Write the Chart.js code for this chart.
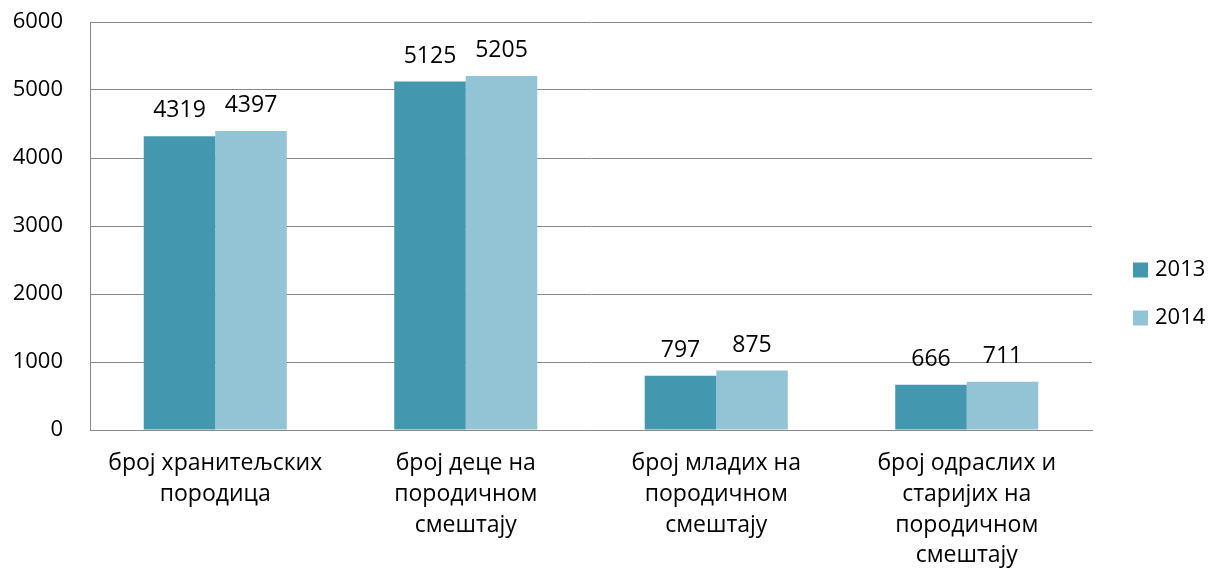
<!DOCTYPE html>
<html>
<head>
<meta charset="utf-8">
<script src="https://cdn.jsdelivr.net/npm/chart.js@4/dist/chart.umd.min.js"></script>
<style>
  html, body { margin: 0; padding: 0; background: #ffffff; }
  #wrap { width: 1210px; height: 573px; position: relative; }
</style>
</head>
<body>
<div id="wrap"><canvas id="c" width="1210" height="573"></canvas></div>
<script>
const categories = [
  ["број хранитељских", "породица"],
  ["број деце на", "породичном", "смештају"],
  ["број младих на", "породичном", "смештају"],
  ["број одраслих и", "старијих на", "породичном", "смештају"]
];
const seriesNames = ["2013", "2014"];
const values2013 = [4319, 5125, 797, 666];
const values2014 = [4397, 5205, 875, 711];
const yTicks = [0, 1000, 2000, 3000, 4000, 5000, 6000];

const FONT = "'Open Sans', 'DejaVu Sans', sans-serif";

const valueLabels = {
  id: 'valueLabels',
  afterDatasetsDraw(chart) {
    const ctx = chart.ctx;
    ctx.save();
    ctx.font = "23px " + FONT;
    ctx.fillStyle = '#000000';
    ctx.textAlign = 'center';
    ctx.textBaseline = 'alphabetic';
    chart.data.datasets.forEach((ds, i) => {
      const meta = chart.getDatasetMeta(i);
      meta.data.forEach((bar, j) => {
        ctx.fillText(String(ds.data[j]), bar.x, bar.y - 19);
      });
    });
    ctx.restore();
  }
};

const sideLegend = {
  id: 'sideLegend',
  afterDraw(chart) {
    const ctx = chart.ctx;
    ctx.save();
    ctx.font = "22px " + FONT;
    ctx.textAlign = 'left';
    ctx.textBaseline = 'middle';
    chart.data.datasets.forEach((ds, i) => {
      const cy = 270 + i * 48;
      ctx.fillStyle = ds.backgroundColor;
      ctx.fillRect(1133, cy - 7.5, 15, 15);
      ctx.fillStyle = '#000000';
      ctx.fillText(ds.label, 1155, cy);
    });
    ctx.restore();
  }
};

new Chart(document.getElementById('c'), {
  type: 'bar',
  data: {
    labels: categories,
    datasets: [
      { label: seriesNames[0], data: values2013, backgroundColor: '#4398B0', borderWidth: 0 },
      { label: seriesNames[1], data: values2014, backgroundColor: '#93C4D6', borderWidth: 0 }
    ]
  },
  options: {
    responsive: false,
    animation: false,
    layout: { padding: { left: 0, top: 22, right: 118, bottom: 0 } },
    plugins: {
      legend: { display: false },
      tooltip: { enabled: false }
    },
    datasets: {
      bar: { categoryPercentage: 0.571, barPercentage: 1.0 }
    },
    scales: {
      x: {
        grid: { display: false, drawTicks: false },
        border: { display: true, color: '#888888', width: 1 },
        ticks: {
          color: '#000000',
          padding: 18,
          maxRotation: 0,
          autoSkip: false,
          font: { family: FONT, size: 23, lineHeight: 1.34 }
        },
        afterFit(scale) { scale.height = 143; }
      },
      y: {
        min: 0,
        max: 6000,
        afterBuildTicks(scale) { scale.ticks = yTicks.map(v => ({ value: v })); },
        grid: { color: '#888888', lineWidth: 1, drawTicks: true, tickLength: 27, tickColor: 'rgba(0,0,0,0)' },
        border: { display: true, color: '#888888', width: 1 },
        ticks: {
          color: '#000000',
          padding: 0,
          font: { family: FONT, size: 22 },
          callback: (v) => String(v)
        },
        afterFit(scale) { scale.width = 90; }
      }
    }
  },
  plugins: [valueLabels, sideLegend]
});
</script>
</body>
</html>
